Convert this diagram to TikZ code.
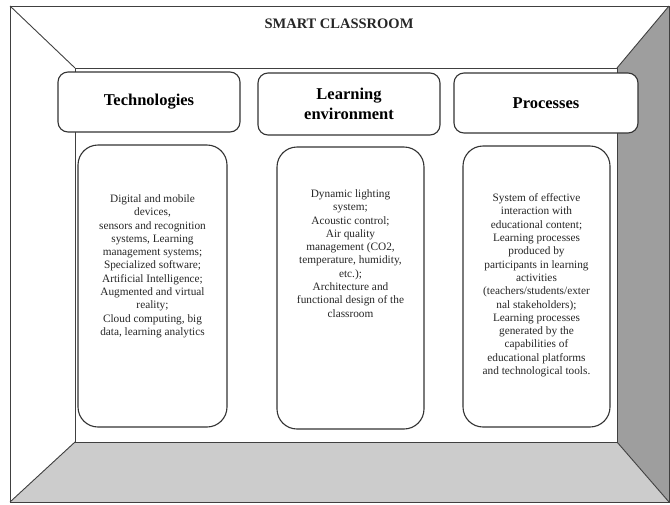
\documentclass[tikz,border=0pt]{standalone}
\usepackage{fontspec}
\setmainfont{Liberation Serif}
\begin{document}
\begin{tikzpicture}[x=1pt,y=-1pt,
  wall/.style={draw=black!75,line width=0.9pt},
  headbox/.style={draw=black!80,line width=1.1pt,fill=white,rounded corners=10pt,inner sep=0pt,
     font=\fontsize{16.5}{20}\selectfont\bfseries,align=center},
  tallbox/.style={draw=black!80,line width=1.1pt,fill=white,rounded corners=20pt,inner sep=0pt},
  body/.style={font=\fontsize{11.3}{13.3}\selectfont,align=center,inner sep=0pt,text=black!85}]
\useasboundingbox (0,0) rectangle (670,504);
% room
\coordinate (o1) at (10,6);
\coordinate (o2) at (669,6);
\coordinate (o3) at (669,502);
\coordinate (o4) at (10,502);
\coordinate (i1) at (75,68);
\coordinate (i2) at (617,68);
\coordinate (i3) at (617,442);
\coordinate (i4) at (75,442);
\fill[black!38] (i2) -- (o2) -- (o3) -- (i3) -- cycle;
\fill[black!20] (i4) -- (i3) -- (o3) -- (o4) -- cycle;
\draw[wall] (o1) rectangle (o3);
\draw[wall] (i1) rectangle (i3);
\draw[wall] (o1) -- (i1);
\draw[wall] (o2) -- (i2);
\draw[wall] (o3) -- (i3);
\draw[wall] (o4) -- (i4);
\node[font=\fontsize{14.5}{17}\selectfont\bfseries,text=black!85] (title) at (339,24) {SMART CLASSROOM};
% header boxes
\node[headbox,minimum width=182pt,minimum height=60pt] (tech) at (149,102) {Technologies};
\node[headbox,minimum width=182pt,minimum height=62pt] (learn) at (349,104) {Learning\\environment};
\node[headbox,minimum width=184pt,minimum height=60pt] (proc) at (546,103) {Processes};
% tall boxes
\node[tallbox,minimum width=149pt,minimum height=282pt] (techbox) at (152.5,286) {};
\node[tallbox,minimum width=147pt,minimum height=282pt] (learnbox) at (350.5,288) {};
\node[tallbox,minimum width=147pt,minimum height=281pt] (procbox) at (536.5,286.5) {};
\node[body,anchor=north] (techtxt) at ([yshift=-50pt]techbox.north) {Digital and mobile\\devices,\\sensors and recognition\\systems, Learning\\management systems;\\Specialized software;\\Artificial Intelligence;\\Augmented and virtual\\reality;\\Cloud computing, big\\data, learning analytics};
\node[body,anchor=north] (learntxt) at ([yshift=-43pt]learnbox.north) {Dynamic lighting\\system;\\Acoustic control;\\Air quality\\management (CO2,\\temperature, humidity,\\etc.);\\Architecture and\\functional design of the\\classroom};
\node[body,anchor=north] (proctxt) at ([yshift=-48pt]procbox.north) {System of effective\\interaction with\\educational content;\\Learning processes\\produced by\\participants in learning\\activities\\(teachers/students/exter\\nal stakeholders);\\Learning processes\\generated by the\\capabilities of\\educational platforms\\and technological tools.};
\end{tikzpicture}
\end{document}
